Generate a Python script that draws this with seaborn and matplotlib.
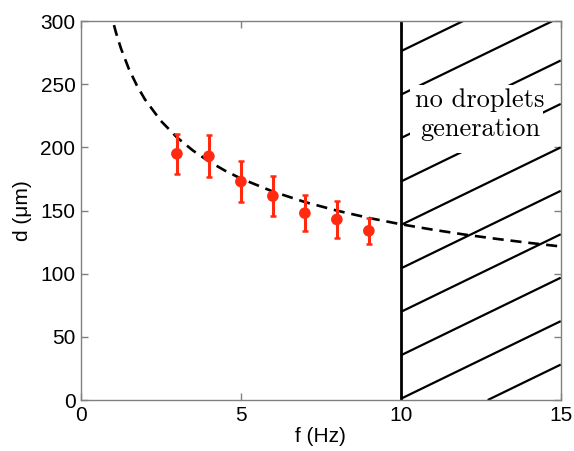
import numpy as np
import pandas as pd
import matplotlib
matplotlib.use("Agg")
import matplotlib.pyplot as plt
import seaborn as sns
from matplotlib.patches import Rectangle

# ---- data ----
freq = [3, 4, 5, 6, 7, 8, 9]
diam = [195, 193, 173, 161.5, 148, 143, 134]
diam_err = [16, 16.5, 16, 16, 14, 15, 10.5]

curve_f = [0.9, 1, 1.1, 1.25, 1.5, 1.75, 2, 2.5, 3, 3.5, 4, 4.5, 5, 6, 7, 8, 9,
           10, 11, 12, 13, 14, 15]
curve_d = [310.7, 300, 290.6, 278.5, 262.1, 249.0, 238.1, 221.0, 208.0, 197.6,
           189.0, 181.7, 175.4, 165.1, 156.8, 150.0, 144.2, 139.2, 134.9, 131.0,
           127.6, 124.5, 121.6]

f_limit = 10
xticks = [0, 5, 10, 15]
yticks = [0, 50, 100, 150, 200, 250, 300]
region_text = "no droplets\ngeneration"

sns.set_style("white")
plt.rcParams["font.family"] = ["Liberation Sans", "DejaVu Sans"]
plt.rcParams["text.color"] = "black"
plt.rcParams["axes.labelcolor"] = "black"
plt.rcParams["xtick.color"] = "black"
plt.rcParams["ytick.color"] = "black"

fig = plt.figure(figsize=(5.74, 4.51), dpi=100)
ax = fig.add_axes([0.141, 0.113, 0.977 - 0.141, 0.953 - 0.113])

xmin, xmax, ymin, ymax = 0, 15, 0, 300

# hatched "no droplets" region
slope = 12.3
spacing = 34.4
for k in range(-3, 12):
    d0 = k * spacing + 1
    fa, fb = f_limit, xmax
    ya, yb = d0 + slope * (fa - f_limit), d0 + slope * (fb - f_limit)
    if ya < ymin:
        fa = f_limit + (ymin - d0) / slope
        ya = ymin
    if yb > ymax:
        fb = f_limit + (ymax - d0) / slope
        yb = ymax
    if fa < fb and ya <= ymax and yb >= ymin:
        ax.plot([fa, fb], [ya, yb], color="black", lw=1.6, zorder=1,
                solid_capstyle="butt")
ax.axvline(f_limit, color="black", lw=2.0, zorder=2)

# white box behind the text
ax.add_patch(Rectangle((10.28, 196), 4.16, 53.5, facecolor="white",
                       edgecolor="none", zorder=3))
ax.text(12.48, 226, region_text, family="cmr10", fontsize=19, ha="center",
        va="center", linespacing=1.25, zorder=4, color="black")

# fit curve
cdf = pd.DataFrame({"f": curve_f, "d": curve_d})
sns.lineplot(data=cdf, x="f", y="d", ax=ax, color="black", lw=1.9,
             linestyle=(0, (4.2, 2.6)), sort=False, estimator=None, zorder=5)

# data with error bars
red = "#ff2a10"
ax.errorbar(freq, diam, yerr=diam_err, fmt="none", ecolor=red, elinewidth=2.2,
            capsize=2.5, capthick=1.8, zorder=6)
pdf = pd.DataFrame({"f": freq, "d": diam})
sns.scatterplot(data=pdf, x="f", y="d", ax=ax, color=red, s=70,
                edgecolor="none", zorder=7)

ax.set_xlim(xmin, xmax)
ax.set_ylim(ymin, ymax)
ax.set_xticks(xticks)
ax.set_yticks(yticks)
ax.set_xlabel("f (Hz)", fontsize=15, labelpad=2)
ax.set_ylabel("d (\u03bcm)", fontsize=15, labelpad=6)
ax.tick_params(direction="in", length=5, width=1, bottom=True, left=True,
               top=True, right=True, color="#808080", labelcolor="black",
               labelsize=15, pad=4)
for sp in ax.spines.values():
    sp.set_color("#808080")
    sp.set_linewidth(1)
    sp.set_zorder(10)

fig.savefig("out.png", dpi=100)
